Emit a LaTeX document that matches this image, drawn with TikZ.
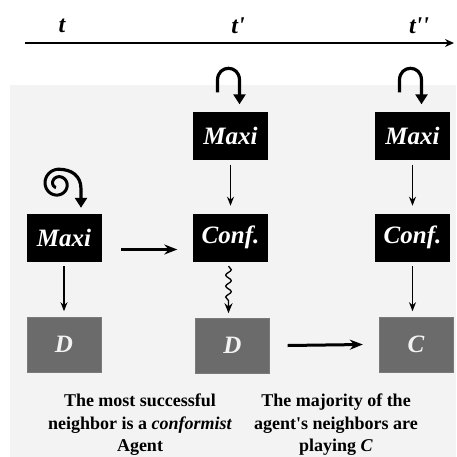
\documentclass[tikz,border=0pt]{standalone}
\usepackage{fontspec}
\setmainfont{Liberation Serif}
\usetikzlibrary{arrows.meta,decorations.pathmorphing,calc}
\definecolor{bggray}{HTML}{F3F3F3}
\definecolor{boxgray}{HTML}{6B6B6B}
\definecolor{lbl}{HTML}{F2F2F2}
\begin{document}
\begin{tikzpicture}[x=1pt,y=-1pt,
  blackbox/.style={draw=black,fill=black,minimum width=74pt,minimum height=47pt,inner sep=0pt,
    text=white,font=\fontsize{25}{28}\selectfont\bfseries\itshape},
  graybox/.style={draw=boxgray!90!white,fill=boxgray,minimum width=74pt,minimum height=55pt,inner sep=0pt,
    text=lbl,font=\fontsize{25}{28}\selectfont\bfseries\itshape},
  thin arrow/.style={draw,line width=1.2pt,-{Stealth[length=9pt,width=7pt]}},
  thick arrow/.style={draw,line width=3pt,-{Stealth[length=13pt,width=10pt]}},
  loop arrow/.style={draw,line width=3.2pt,-{Triangle[length=10pt,width=12pt]}},
  timelbl/.style={font=\fontsize{24}{28}\selectfont\bfseries\itshape},
  caption/.style={align=center,font=\fontsize{18}{22.5}\selectfont\bfseries}
]
\useasboundingbox (0,0) rectangle (456,457);
\fill[bggray] (10,85) rectangle (456,457);
% time axis
\coordinate (ts) at (25,43);
\coordinate (te) at (454,43);
\draw[line width=1.6pt,-{Stealth[length=9pt,width=8pt]}] (ts) -- (te);
\node[timelbl] (t0) at (62,26) {t};
\node[timelbl] (t1) at (238,26) {t\textquotesingle};
\node[timelbl] (t2) at (419,26) {t\textquotesingle\textquotesingle};
% boxes
\node[blackbox] (maxiL) at (64,237.5) {Maxi};
\node[graybox] (dL) at (64,344.5) {D};
\node[blackbox] (maxiM) at (230.5,136) {Maxi};
\node[blackbox] (confM) at (230.5,237.5) {Conf.};
\node[graybox] (dM) at (232.5,345.5) {D};
\node[blackbox] (maxiR) at (412.5,136) {Maxi};
\node[blackbox] (confR) at (412.5,237.5) {Conf.};
\node[graybox] (cR) at (416,344.5) {C};
% vertical arrows
\draw[thin arrow] ($(maxiL.south)+(0,5)$) -- ($(maxiL.south)+(0,50)$);
\draw[thin arrow] ($(maxiM.south)+(0,5)$) -- ($(maxiM.south)+(0,46)$);
\draw[thin arrow] ($(maxiR.south)+(0,5)$) -- ($(maxiR.south)+(0,46)$);
\draw[thin arrow] ($(confR.south)+(0,5)$) -- ($(confR.south)+(0,50)$);
\draw[line width=1.3pt,decorate,decoration={snake,amplitude=2.8pt,segment length=11pt,post length=11pt},
  -{Stealth[length=10pt,width=8pt]}] ($(confM.south)+(-2,5)$) -- ($(confM.south)+(-2,52)$);
% horizontal thick arrows
\draw[thick arrow] ($(maxiL.east)+(20,12)$) -- ($(confM.west)+(-16,12)$);
\draw[thick arrow] ($(dM.east)+(18,0)$) -- ($(cR.west)+(-16,0)$);
% spiral loop above left Maxi
\draw[line width=3pt] plot[domain=120:630,samples=120,smooth]
  ({58+(1.5+\x/360*7.6)*cos(\x)},{184+(1.5+\x/360*7.6)*sin(\x)});
\coordinate (spEnd) at (58,169.2);
\draw[loop arrow] (spEnd) .. controls (72,169.2) and (81,176) .. (81,189) -- ($(maxiL.north)+(17,-6)$);
% U-turn loops
\draw[loop arrow] ($(maxiM.north)+(-13,-20)$) -- ++(0,-12) .. controls +(0,-16) and +(0,-16) .. ++(22,0) -- ($(maxiM.north)+(9,-8)$);
\draw[loop arrow] ($(maxiR.north)+(-13,-20)$) -- ++(0,-12) .. controls +(0,-16) and +(0,-16) .. ++(22,0) -- ($(maxiR.north)+(9,-8)$);
% captions
\node[caption] (capL) at (140,425) {The most successful\\neighbor is a \textit{conformist}\\Agent};
\node[caption] (capR) at (336,425) {The majority of the\\agent\textquotesingle s neighbors are\\playing \textit{C}};
\end{tikzpicture}
\end{document}
